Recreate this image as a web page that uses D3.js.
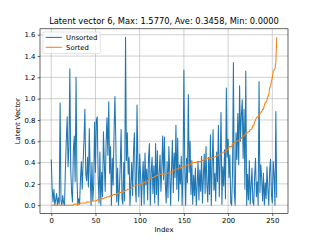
<!DOCTYPE html>
<html>
<head>
<meta charset="utf-8">
<script src="https://cdn.jsdelivr.net/npm/d3@7"></script>
<style>
  body { margin: 0; background: #fff; }
  text { font-family: "DejaVu Sans", sans-serif; fill: #000; }
</style>
</head>
<body>
<script>
// latent vector 6, 256 values
var unsorted = [
  0.43, 0.16, 0.03, 0.15, 0.00, 0.05, 0.11, 0.00, 0.07, 0.01, 0.96, 0.04, 0.00, 0.09, 0.02, 0.00,
  0.35, 0.61, 0.83, 0.36, 0.55, 1.28, 0.34, 0.12, 0.03, 0.52, 0.65, 0.22, 1.20, 0.28, 0.00, 0.06,
  0.01, 0.24, 0.41, 0.15, 0.40, 0.61, 0.90, 0.29, 0.23, 0.45, 0.17, 0.72, 0.30, 0.00, 0.40, 0.04,
  0.19, 0.78, 0.31, 0.80, 0.83, 0.27, 0.02, 0.50, 0.00, 0.31, 0.08, 0.69, 0.40, 0.13, 0.58, 0.82,
  0.47, 0.97, 0.30, 0.55, 0.00, 0.44, 0.19, 0.69, 1.02, 0.60, 0.03, 0.35, 0.00, 0.14, 0.37, 0.71,
  0.06, 0.01, 0.40, 0.04, 1.577, 0.42, 0.68, 0.29, 0.45, 0.00, 0.20, 0.40, 0.09, 0.50, 0.68, 0.18,
  0.03, 0.94, 0.39, 0.08, 0.48, 0.28, 0.00, 0.25, 0.41, 0.01, 0.49, 0.19, 0.34, 0.05, 0.44, 0.58,
  0.00, 0.30, 0.45, 0.11, 0.37, 0.02, 0.58, 0.10, 0.51, 0.00, 0.29, 0.47, 0.13, 0.34, 0.65, 0.24,
  0.64, 0.20, 0.02, 0.41, 0.07, 0.55, 0.30, 0.00, 0.33, 0.61, 0.12, 0.49, 0.26, 0.75, 0.15, 0.63,
  0.04, 0.38, 0.20, 0.46, 0.00, 0.29, 1.27, 0.36, 0.00, 0.44, 0.21, 1.04, 0.31, 0.60, 0.10, 0.42,
  0.01, 0.28, 0.09, 0.35, 0.00, 0.19, 0.41, 0.05, 0.33, 0.13, 0.46, 0.02, 0.26, 0.48, 0.11, 0.55,
  0.20, 0.03, 0.45, 0.10, 0.66, 0.00, 0.38, 0.71, 0.14, 0.30, 0.04, 0.50, 0.22, 0.75, 0.08, 0.40,
  0.87, 0.01, 0.36, 0.18, 0.52, 0.06, 1.10, 0.45, 0.62, 0.26, 0.47, 0.02, 0.00, 0.31, 1.34, 0.12,
  0.00, 0.68, 0.43, 0.86, 0.38, 1.12, 0.60, 0.85, 0.99, 0.44, 0.90, 0.15, 1.26, 0.00, 0.29, 0.05,
  0.42, 0.01, 0.18, 0.35, 0.03, 0.00, 0.27, 0.44, 0.08, 0.22, 0.00, 1.16, 0.12, 0.38, 0.25, 0.04,
  0.30, 0.00, 0.21, 0.06, 0.36, 0.15, 0.00, 0.33, 0.43, 0.10, 0.02, 0.41, 0.28, 0.00, 0.88, 0.07
];
var sorted = unsorted.slice().sort(d3.ascending);

var xTicks = [0, 50, 100, 150, 200, 250];
var yTicks = [0, 0.2, 0.4, 0.6, 0.8, 1.0, 1.2, 1.4, 1.6];
var seriesNames = ["Unsorted", "Sorted"];
var seriesColors = ["#1f77b4", "#ff7f0e"];
var titleText = "Latent vector 6, Max: 1.5770, Ave: 0.3458, Min: 0.0000";

var width = 320, height = 240;
var axL = 40, axR = 288, axT = 28.8, axB = 213.6;

var svg = d3.select("body").append("svg")
    .attr("width", width)
    .attr("height", height);

// matplotlib style 5% margins
var n = unsorted.length;
var xPad = (n - 1) * 0.05;
var yMax = d3.max(unsorted), yMin = d3.min(unsorted);
var yPad = (yMax - yMin) * 0.05;

var x = d3.scaleLinear().domain([-xPad, n - 1 + xPad]).range([axL, axR]);
var y = d3.scaleLinear().domain([yMin - yPad, yMax + yPad]).range([axB, axT]);

// grid
svg.append("g").selectAll("line").data(xTicks).enter().append("line")
    .attr("x1", d => x(d)).attr("x2", d => x(d))
    .attr("y1", axT).attr("y2", axB)
    .attr("stroke", "#b0b0b0").attr("stroke-width", 0.6);
svg.append("g").selectAll("line").data(yTicks).enter().append("line")
    .attr("x1", axL).attr("x2", axR)
    .attr("y1", d => y(d)).attr("y2", d => y(d))
    .attr("stroke", "#b0b0b0").attr("stroke-width", 0.6);

var line = d3.line().x((d, i) => x(i)).y(d => y(d));

svg.append("path").datum(unsorted)
    .attr("d", line)
    .attr("fill", "none")
    .attr("stroke", seriesColors[0])
    .attr("stroke-width", 1.05)
    .attr("stroke-linejoin", "round");

svg.append("path").datum(sorted)
    .attr("d", line)
    .attr("fill", "none")
    .attr("stroke", seriesColors[1])
    .attr("stroke-width", 1.05)
    .attr("stroke-linejoin", "round");

// axes
var xAxis = svg.append("g")
    .attr("transform", "translate(0," + axB + ")")
    .call(d3.axisBottom(x).tickValues(xTicks).tickSize(2.4).tickPadding(2.2).tickFormat(d3.format("d")));
var yAxis = svg.append("g")
    .attr("transform", "translate(" + axL + ",0)")
    .call(d3.axisLeft(y).tickValues(yTicks).tickSize(2.4).tickPadding(2.2).tickFormat(d3.format(".1f")));

[xAxis, yAxis].forEach(function(a) {
  a.select(".domain").remove();
  a.selectAll(".tick line").attr("stroke", "#000").attr("stroke-width", 0.6);
  a.selectAll(".tick text")
    .style("font-family", "DejaVu Sans")
    .style("font-size", "6.9px")
    .attr("fill", "#000");
});

svg.append("rect")
    .attr("x", axL).attr("y", axT)
    .attr("width", axR - axL).attr("height", axB - axT)
    .attr("fill", "none").attr("stroke", "#000").attr("stroke-width", 0.6);

// labels
svg.append("text")
    .attr("x", (axL + axR) / 2).attr("y", 24.3)
    .attr("text-anchor", "middle")
    .style("font-size", "8.3px")
    .text(titleText);

svg.append("text")
    .attr("x", (axL + axR) / 2).attr("y", 231.5)
    .attr("text-anchor", "middle")
    .style("font-size", "6.9px")
    .text("Index");

svg.append("text")
    .attr("transform", "translate(19.5," + ((axT + axB) / 2) + ") rotate(-90)")
    .attr("text-anchor", "middle")
    .style("font-size", "6.9px")
    .text("Latent Vector");

// legend
var legend = svg.append("g").attr("transform", "translate(42.8,32)");
legend.append("rect")
    .attr("width", 57.5).attr("height", 21.5)
    .attr("rx", 1.5)
    .attr("fill", "#fff").attr("fill-opacity", 0.8)
    .attr("stroke", "#d0d0d0").attr("stroke-width", 0.6);

var item = legend.selectAll(".item").data(seriesNames).enter().append("g")
    .attr("class", "item")
    .attr("transform", (d, i) => "translate(0," + (5.4 + i * 9.9) + ")");
item.append("line")
    .attr("x1", 2.9).attr("x2", 19)
    .attr("stroke", (d, i) => seriesColors[i])
    .attr("stroke-width", 1.05);
item.append("text")
    .attr("x", 23.3).attr("y", 2.4)
    .style("font-size", "6.9px")
    .text(d => d);
</script>
</body>
</html>
